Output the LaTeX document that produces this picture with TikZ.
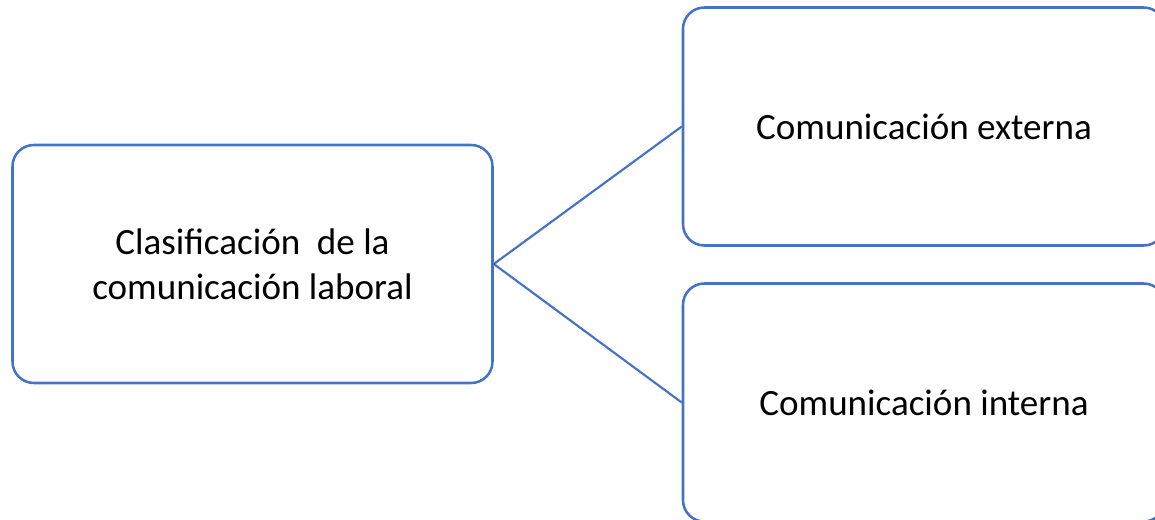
\documentclass[tikz,border=0pt]{standalone}
\usepackage{fontspec}
\setmainfont{Carlito}
\definecolor{boxblue}{HTML}{4472C4}
\tikzset{
  catbox/.style={draw=boxblue, line width=1.9pt, rounded corners=16pt,
    fill=white, align=center, font=\fontsize{27.8}{33.5}\selectfont,
    minimum width=360pt, minimum height=178.5pt, inner sep=0pt},
  link/.style={draw=boxblue, line width=1.6pt}
}
\begin{document}
\begin{tikzpicture}[x=0.75pt,y=-0.75pt]
  \useasboundingbox (0,0) rectangle (1155,520);
  \clip (0,0) rectangle (1155,520);
  \node[catbox] (root) at (252.5,264) {Clasificación\ \ de la\\comunicación laboral};
  \node[catbox, minimum width=361.5pt] (ext) at (924,126.5) {Comunicación externa};
  \node[catbox, minimum width=361.5pt] (int) at (924,402.5) {Comunicación interna};
  \draw[link] (root.east) -- (ext.west);
  \draw[link] (root.east) -- (int.west);
\end{tikzpicture}
\end{document}
